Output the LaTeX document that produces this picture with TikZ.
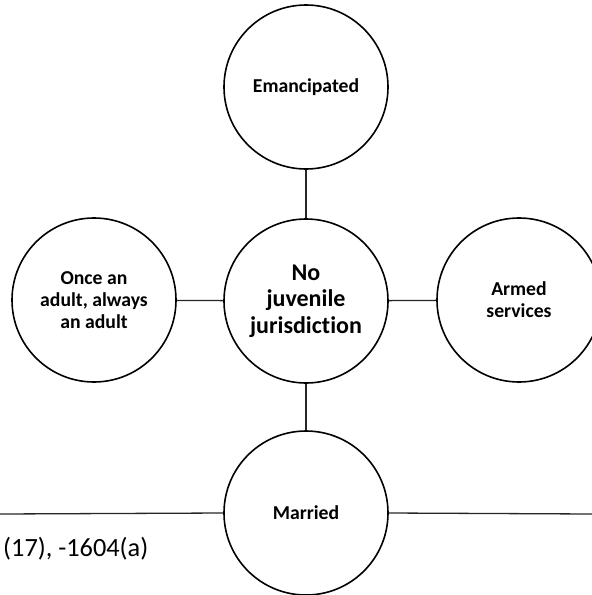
\documentclass[tikz,border=0pt]{standalone}
\usepackage{fontspec}
\setmainfont{Carlito}[Ligatures=NoCommon]
\begin{document}
\begin{tikzpicture}[x=1pt,y=-1pt,
  bubble/.style={draw=black,circle,line width=1.6pt,minimum size=164pt,inner sep=0pt,
    align=center,font=\bfseries\fontsize{19.7}{22}\selectfont},
  hub/.style={bubble,font=\bfseries\fontsize{24}{26.5}\selectfont},
  conn/.style={draw=black!85,line width=1.3pt}]
\useasboundingbox (0,0) rectangle (592,595);
\clip (0,0) rectangle (592,595);
\node[hub] (center) at (306,301) {No\\juvenile\\jurisdiction};
\node[bubble] (top) at (306,87) {Emancipated};
\node[bubble] (left) at (94,300) {Once an\\adult, always\\an adult};
\node[bubble] (right) at (519,300) {Armed\\services};
\node[bubble] (bottom) at (306,513) {Married};
\coordinate (lend) at (0,514);
\coordinate (rend) at (592,514);
\draw[conn] (top) -- (center);
\draw[conn] (left) -- (center);
\draw[conn] (center) -- (right);
\draw[conn] (center) -- (bottom);
\draw[conn] (lend) -- (bottom.west);
\draw[conn] (bottom.east) -- (rend);
\node[anchor=base west,inner sep=0pt,font=\fontsize{26.3}{30}\selectfont] (cite) at (3,556) {(17), -1604(a)};
\end{tikzpicture}
\end{document}
